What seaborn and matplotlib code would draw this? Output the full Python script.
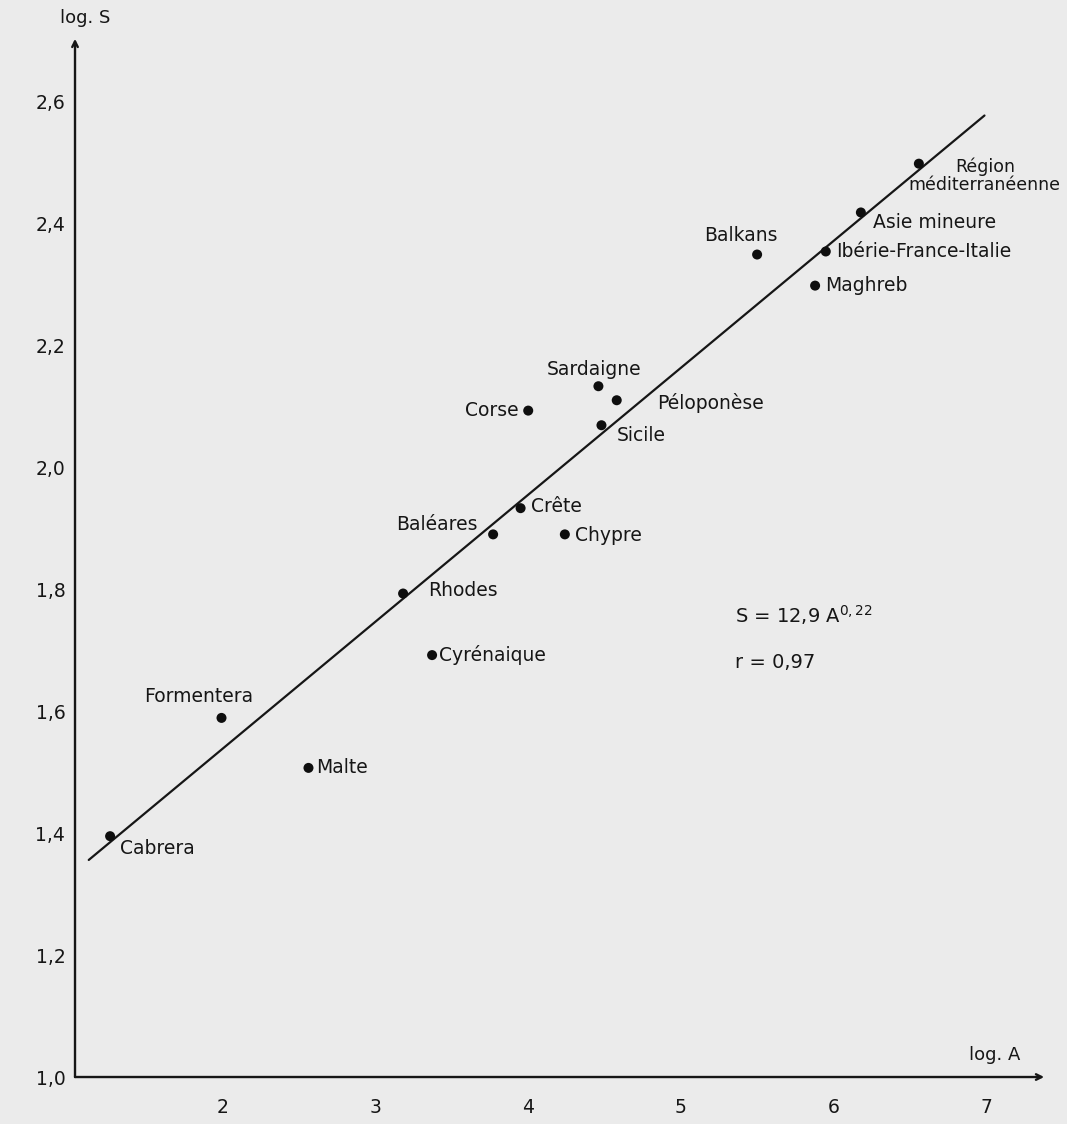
import pandas as pd
import matplotlib
matplotlib.use("Agg")
import matplotlib.pyplot as plt
import seaborn as sns

# values
places = ["Cabrera", "Formentera", "Malte", "Rhodes", "Cyrénaique", "Baléares",
          "Crête", "Chypre", "Corse", "Sardaigne", "Péloponèse", "Sicile",
          "Balkans", "Maghreb", "Ibérie-France-Italie", "Asie mineure",
          "Région\nméditerranéenne"]
log_a = [1.26, 1.99, 2.56, 3.18, 3.37, 3.77, 3.95, 4.24, 4.00, 4.46, 4.58, 4.48,
         5.50, 5.88, 5.95, 6.18, 6.56]
log_s = [1.395, 1.589, 1.507, 1.793, 1.692, 1.890, 1.933, 1.890, 2.093, 2.133,
         2.110, 2.069, 2.349, 2.298, 2.354, 2.418, 2.498]

# regression line ends
fit_x = [1.12, 6.99]
fit_y = [1.356, 2.577]

x_ticks = [2, 3, 4, 5, 6, 7]
y_ticks = [1.0, 1.2, 1.4, 1.6, 1.8, 2.0, 2.2, 2.4, 2.6]
y_tick_labels = ["1,0", "1,2", "1,4", "1,6", "1,8", "2,0", "2,2", "2,4", "2,6"]

# label offsets in pixels (dx, dy, ha, size)
label_pos = {
    "Cabrera": (10, -12, "left", 13.5),
    "Formentera": (-23, 21, "center", 13.5),
    "Malte": (8, 0, "left", 13.5),
    "Rhodes": (25, 3, "left", 13.5),
    "Cyrénaique": (7, 0, "left", 13.5),
    "Baléares": (-15, 10, "right", 13.5),
    "Crête": (10, 2, "left", 13.5),
    "Chypre": (10, -1, "left", 13.5),
    "Corse": (-10, 0, "right", 13.5),
    "Sardaigne": (-4, 17, "center", 13.5),
    "Péloponèse": (40, -3, "left", 13.5),
    "Sicile": (15, -10, "left", 13.5),
    "Balkans": (-16, 19, "center", 13.5),
    "Maghreb": (10, 0, "left", 13.5),
    "Ibérie-France-Italie": (10, 0, "left", 13.5),
    "Asie mineure": (12, -10, "left", 13.5),
    "Région\nméditerranéenne": (66, -12, "center", 12.5),
}

df = pd.DataFrame({"place": places, "log_a": log_a, "log_s": log_s})
fit = pd.DataFrame({"x": fit_x, "y": fit_y})

sns.set_style("white")
plt.rcParams["font.family"] = ["DejaVu Sans"]
bg = "#ebebeb"
ink = "#161616"

fig = plt.figure(figsize=(10.67, 11.24), dpi=100, facecolor=bg)
ax = fig.add_axes([0.0703, 0.0418, 0.911, 0.933])
ax.set_facecolor(bg)

sns.lineplot(data=fit, x="x", y="y", ax=ax, color=ink, linewidth=1.6)
sns.scatterplot(data=df, x="log_a", y="log_s", ax=ax, color="#0e0e0e", s=52,
                edgecolor="none", zorder=3)

for name, xa, ys in zip(places, log_a, log_s):
    dx, dy, ha, size = label_pos[name]
    ax.annotate(name, (xa, ys), xytext=(dx, dy), textcoords="offset pixels",
                ha=ha, va="center", fontsize=size, color=ink,
                multialignment="center", linespacing=0.95,
                annotation_clip=False)

ax.set_xlim(1.03, 7.4)
ax.set_ylim(1.0, 2.72)
ax.set_xticks(x_ticks)
ax.set_xticklabels([str(t) for t in x_ticks])
ax.set_yticks(y_ticks)
ax.set_yticklabels(y_tick_labels)
ax.tick_params(axis="both", direction="out", length=7, width=1.2,
               colors=ink, labelsize=13.5)
ax.tick_params(axis="x", pad=8)
ax.tick_params(axis="y", length=5, pad=2)

for side in ["top", "right", "left", "bottom"]:
    ax.spines[side].set_visible(False)

# axes with arrow heads
ax.annotate("", xy=(0.997, 0), xytext=(0, 0), xycoords="axes fraction",
            arrowprops=dict(arrowstyle="->", color=ink, lw=1.7,
                            shrinkA=0, shrinkB=0))
ax.annotate("", xy=(0, 0.99), xytext=(0, 0), xycoords="axes fraction",
            arrowprops=dict(arrowstyle="->", color=ink, lw=1.7,
                            shrinkA=0, shrinkB=0))

ax.set_xlabel("")
ax.set_ylabel("")
fig.text(85 / 1067, 1 - 18 / 1124, "log. S", ha="center", va="center",
         fontsize=13, color=ink)
fig.text(995 / 1067, 1 - 1055 / 1124, "log. A", ha="center", va="center",
         fontsize=13, color=ink)

fig.text(735 / 1067, 1 - 615 / 1124, r"S = 12,9 A$^{\mathregular{0,22}}$",
         ha="left", va="center", fontsize=14, color=ink)
fig.text(735 / 1067, 1 - 662 / 1124, "r = 0,97", ha="left", va="center",
         fontsize=14, color=ink)

fig.savefig("out.png", dpi=100, facecolor=bg)
